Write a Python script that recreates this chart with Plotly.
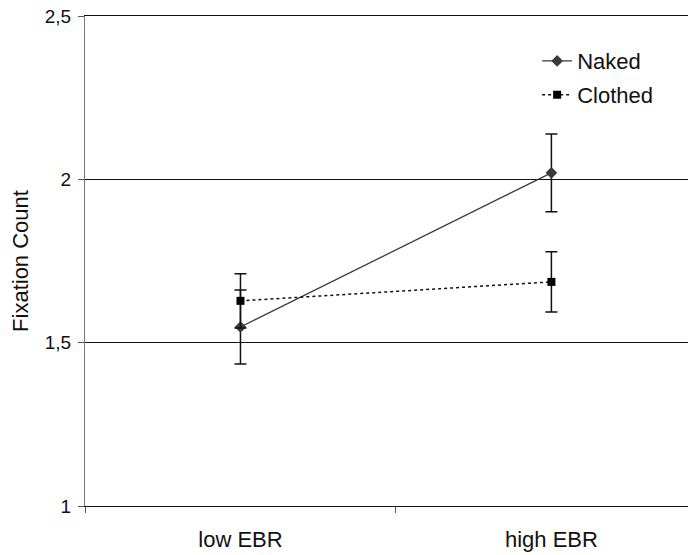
import plotly.graph_objects as go

categories = ["low EBR", "high EBR"]
cat_pos = [0.5, 1.5]
naked = [1.548, 2.020]
naked_err = [0.113, 0.119]
clothed = [1.628, 1.686]
clothed_err = [0.083, 0.092]
y_ticks = [1, 1.5, 2, 2.5]
y_tick_text = ["1", "1,5", "2", "2,5"]

FONT = "Liberation Sans, Arial, sans-serif"

fig = go.Figure()
fig.add_trace(go.Scatter(
    x=cat_pos, y=naked, name="Naked", mode="lines+markers",
    line=dict(color="#3a3a3a", width=1.3),
    marker=dict(symbol="diamond", size=9, color="#3a3a3a"),
    error_y=dict(type="data", array=naked_err, color="#111", thickness=1.5, width=6),
    legend="legend",
))
fig.add_trace(go.Scatter(
    x=cat_pos, y=clothed, name="Clothed", mode="lines+markers",
    line=dict(color="#111", width=1.5, dash="dot"),
    marker=dict(symbol="square", size=8, color="#000"),
    error_y=dict(type="data", array=clothed_err, color="#111", thickness=1.5, width=6),
    legend="legend2",
))

# page body has an 8px default margin; figure is sized to compensate
fig.update_layout(
    width=688, height=547,
    margin=dict(l=77, r=0, t=8, b=49, autoexpand=False),
    plot_bgcolor="white", paper_bgcolor="white",
    font=dict(family=FONT, size=19, color="#111"),
    showlegend=True,
    legend=dict(x=0.74, y=0.908, xanchor="left", yanchor="middle",
                bgcolor="rgba(0,0,0,0)", font=dict(size=22), itemwidth=30),
    legend2=dict(x=0.74, y=0.839, xanchor="left", yanchor="middle",
                 bgcolor="rgba(0,0,0,0)", font=dict(size=22), itemwidth=30),
    xaxis=dict(
        range=[0, 1.965], tickvals=cat_pos, ticktext=categories,
        ticks="outside", ticklen=14, tickcolor="rgba(0,0,0,0)",
        showline=True, linecolor="#111", linewidth=1, mirror=True, showgrid=False,
        zeroline=False, automargin=False, ticklabeloverflow="allow",
        minor=dict(tickvals=[0, 1], ticks="outside", ticklen=6, tickcolor="#555", showgrid=False),
        tickfont=dict(size=22),
    ),
    yaxis=dict(
        range=[1, 2.5], tickvals=y_ticks, ticktext=y_tick_text,
        ticks="outside", ticklen=6, tickcolor="#555", ticklabelstandoff=3,
        showline=True, linecolor="#777", linewidth=1, automargin=False,
        ticklabeloverflow="allow",
        showgrid=True, gridcolor="#111", gridwidth=1, zeroline=False,
        title=dict(text="Fixation Count", font=dict(size=22), standoff=14),
    ),
)

fig.write_html("out.html")
